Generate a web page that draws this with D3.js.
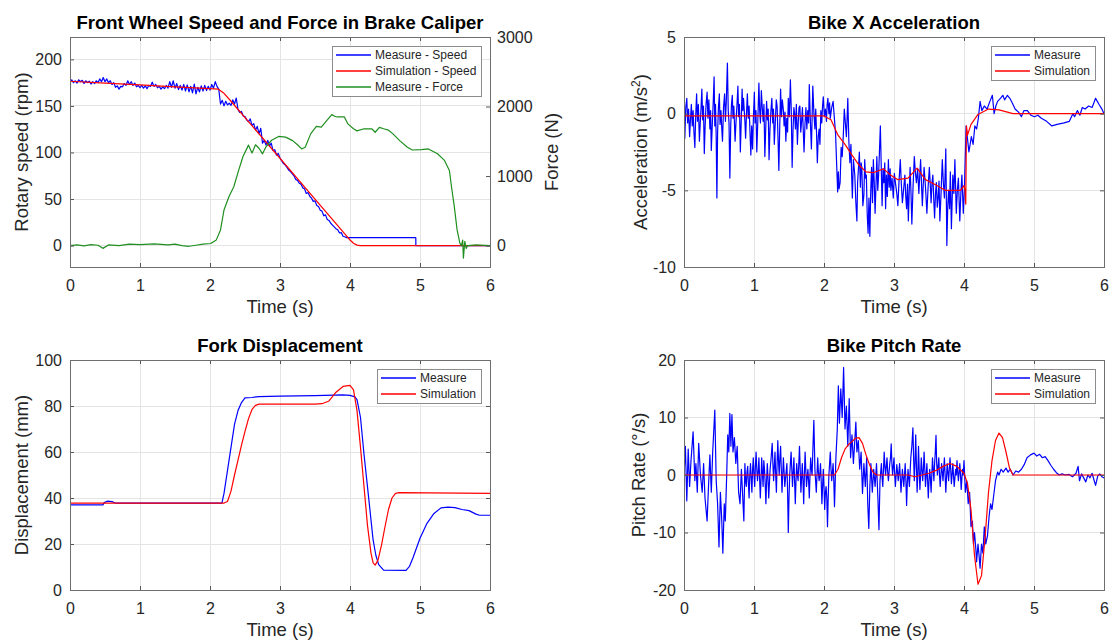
<!DOCTYPE html>
<html>
<head>
<meta charset="utf-8">
<script src="https://cdn.jsdelivr.net/npm/d3@7"></script>
<style>
  body { margin: 0; background: #fff; }
  text { font-family: "Liberation Sans", Arial, Helvetica, sans-serif; fill: #262626; }
</style>
</head>
<body>
<svg id="fig" width="1109" height="641"></svg>
<script>
// ---- data (time in s) ----
const timeTicks = [0, 1, 2, 3, 4, 5, 6];

// front wheel speed (rpm)
const speedMeasure = [[0,176],[0.025,178],[0.05,175],[0.075,177],[0.1,174.5],[0.125,178],[0.15,176],[0.175,177.5],[0.2,174],[0.225,177],[0.25,175],[0.275,176.5],[0.3,173.5],[0.325,176],[0.35,174],[0.375,177],[0.4,175],[0.425,179],[0.45,176],[0.475,180.5],[0.5,176],[0.525,179],[0.55,175],[0.575,177],[0.6,173],[0.625,175],[0.65,170],[0.675,171.5],[0.7,168],[0.725,171],[0.75,170.5],[0.775,174],[0.8,172],[0.825,177],[0.85,173],[0.875,176],[0.9,172],[0.925,174.5],[0.95,170.5],[0.975,172],[1,169.5],[1.025,172],[1.05,169],[1.075,171.5],[1.1,168.5],[1.125,172],[1.15,171],[1.175,175.5],[1.2,171],[1.225,173],[1.25,169.5],[1.275,171],[1.3,168],[1.325,170.5],[1.35,168.5],[1.375,172],[1.4,169],[1.425,176],[1.45,170],[1.475,177],[1.5,169],[1.525,174],[1.55,167.5],[1.575,172],[1.6,167],[1.625,173],[1.65,166],[1.675,172.5],[1.7,165],[1.725,171],[1.75,164],[1.775,173.5],[1.8,163],[1.825,170],[1.85,165],[1.875,171.5],[1.9,166],[1.925,172],[1.95,166.5],[1.975,171],[2,167],[2.025,173],[2.05,169],[2.075,176],[2.1,171],[2.125,168],[2.15,152],[2.175,156],[2.2,150],[2.225,155],[2.25,151],[2.275,153],[2.3,150.5],[2.325,156.5],[2.35,152],[2.375,158.5],[2.4,146],[2.425,143],[2.45,144],[2.475,139],[2.5,138.5],[2.525,135],[2.55,133],[2.575,136],[2.6,129],[2.625,131],[2.65,124],[2.675,128],[2.7,120],[2.725,126],[2.75,110],[2.775,113],[2.8,108],[2.825,113],[2.85,107],[2.875,110],[2.9,102],[2.925,103],[2.95,97],[2.975,99],[3,94],[3.025,91],[3.05,88],[3.075,86.5],[3.1,84],[3.125,81],[3.15,79.5],[3.2,75],[3.225,71],[3.25,70],[3.275,67],[3.3,66],[3.325,62],[3.35,61],[3.375,56],[3.4,57],[3.425,53],[3.45,51],[3.475,47.5],[3.5,48],[3.525,43],[3.55,42],[3.575,38],[3.6,37],[3.625,32],[3.65,33],[3.675,28],[3.7,27],[3.725,24],[3.75,22],[3.775,20],[3.8,18],[3.825,17],[3.85,13.5],[3.875,14],[3.9,10],[3.925,9.5],[3.95,8.5],[4.94,8.5],[4.941,0],[6,0]];
const speedSim = [[0,176.5],[0.5,174.5],[1,172.5],[1.5,170.5],[2,168.5],[2.12,168],[2.2,163.5],[2.3,155],[3.95,10.5],[4,6],[4.05,2.5],[4.1,0.5],[4.15,0],[6,0]];
// brake caliper force (N)
const forceMeasure = [[0,0],[0.1,10],[0.2,-5],[0.3,15],[0.4,5],[0.47,-40],[0.55,10],[0.7,0],[0.85,20],[1,15],[1.2,25],[1.4,10],[1.5,20],[1.6,0],[1.7,-10],[1.8,5],[1.9,20],[2.01,30],[2.09,82],[2.15,225],[2.2,512],[2.27,703],[2.34,846],[2.41,1086],[2.47,1277],[2.55,1445],[2.6,1330],[2.65,1450],[2.7,1400],[2.75,1320],[2.8,1420],[2.88,1515],[2.98,1570],[3.08,1560],[3.18,1510],[3.25,1450],[3.31,1390],[3.36,1415],[3.44,1610],[3.52,1715],[3.59,1705],[3.67,1800],[3.74,1885],[3.78,1860],[3.82,1850],[3.92,1850],[3.97,1750],[4.05,1680],[4.1,1650],[4.2,1680],[4.31,1680],[4.36,1630],[4.42,1700],[4.48,1680],[4.55,1660],[4.61,1610],[4.71,1510],[4.82,1415],[4.89,1375],[5.02,1380],[5.12,1390],[5.25,1320],[5.35,1225],[5.42,1080],[5.45,846],[5.49,560],[5.53,225],[5.57,33],[5.59,0],[5.61,80],[5.62,-180],[5.64,60],[5.66,-40],[5.68,0],[5.8,10],[6,0]];

// bike x acceleration (m/s^2)
const accMeasure = [[0,-0.5],[0.012,-1.6],[0.025,0.4],[0.04,1],[0.052,-0.6],[0.065,0.3],[0.08,-1.5],[0.092,-0.4],[0.105,0.6],[0.118,-0.8],[0.13,0.2],[0.142,-1.2],[0.155,-2.2],[0.167,-0.2],[0.18,1.3],[0.192,-0.5],[0.205,0.6],[0.22,-1.8],[0.232,-0.6],[0.243,0.3],[0.255,1.6],[0.267,-0.4],[0.278,0.5],[0.29,-2.6],[0.302,-0.8],[0.315,0.6],[0.33,1.4],[0.342,-0.3],[0.355,0.9],[0.37,-1],[0.38,0.2],[0.39,-2.4],[0.405,-0.6],[0.418,0.8],[0.43,2.4],[0.44,-0.8],[0.45,0.6],[0.46,-1.5],[0.47,-5.5],[0.48,-1.2],[0.492,0.4],[0.505,1.3],[0.515,-0.7],[0.528,0.2],[0.54,-1],[0.55,-1.8],[0.565,0.4],[0.58,1.3],[0.592,-0.5],[0.605,0.9],[0.62,3.3],[0.632,0.2],[0.643,-0.6],[0.655,-4.2],[0.667,-0.9],[0.678,0.6],[0.69,1.2],[0.7,-0.3],[0.712,0.5],[0.73,-1.8],[0.742,-0.6],[0.755,0.4],[0.77,1.8],[0.78,-0.2],[0.792,0.6],[0.805,-2.5],[0.818,-0.4],[0.83,1.6],[0.84,0.2],[0.85,1],[0.87,-0.5],[0.88,-1.6],[0.892,-0.1],[0.905,1.3],[0.918,-0.3],[0.93,0.5],[0.942,-1.1],[0.955,-2.7],[0.967,-0.8],[0.98,-2.3],[0.992,-0.2],[1.005,1.4],[1.015,-0.6],[1.028,0.2],[1.04,-2.5],[1.055,-0.4],[1.07,2],[1.08,0.3],[1.092,-0.6],[1.105,1.5],[1.118,0.4],[1.13,-0.5],[1.142,0.6],[1.155,-2.8],[1.168,-0.9],[1.18,0.8],[1.192,-0.4],[1.203,0.3],[1.215,-3],[1.228,-1],[1.242,0.2],[1.255,1],[1.268,-0.6],[1.278,0.3],[1.29,-2],[1.305,-0.5],[1.318,0.9],[1.33,0.5],[1.342,-1.4],[1.355,-3.7],[1.368,-0.8],[1.38,1.6],[1.392,-0.2],[1.405,0.9],[1.42,0.2],[1.43,-0.8],[1.443,0.1],[1.455,-1.8],[1.468,-0.3],[1.48,-1.2],[1.49,1],[1.505,-0.2],[1.52,2.2],[1.532,0.3],[1.545,-3.5],[1.558,-1],[1.57,0.4],[1.58,0],[1.592,-1],[1.605,0.6],[1.62,-2],[1.632,-0.6],[1.643,0.4],[1.655,0.5],[1.668,-1.2],[1.68,-0.5],[1.692,0.4],[1.703,-1],[1.715,-2.5],[1.728,-0.7],[1.742,0.4],[1.755,-1],[1.768,0.2],[1.78,-0.6],[1.79,1.9],[1.805,-0.5],[1.82,-2.3],[1.83,-0.3],[1.84,1.8],[1.855,0.1],[1.87,-1],[1.882,0.3],[1.893,-1.2],[1.905,-3.2],[1.918,-1.5],[1.93,-1],[1.942,-2],[1.955,0.2],[1.968,-0.6],[1.978,0.4],[1.99,1.1],[2.005,-0.2],[2.02,0.3],[2.035,-0.5],[2.045,0.6],[2.055,1],[2.07,0],[2.08,0.7],[2.09,-0.3],[2.11,0.4],[2.13,0.8],[2.15,-0.4],[2.165,-1.3],[2.18,-3.2],[2.195,-5.1],[2.205,-3.8],[2.215,-4.9],[2.23,-4.5],[2.245,-2.2],[2.26,-2.8],[2.275,-1.5],[2.29,0.3],[2.305,-0.6],[2.32,-1.5],[2.33,-0.3],[2.34,1],[2.355,-1.8],[2.37,-3.2],[2.385,-2],[2.395,-4],[2.405,-5.5],[2.42,-3],[2.44,-4],[2.455,-5.8],[2.47,-7],[2.48,-4.5],[2.492,-3.6],[2.505,-2.5],[2.52,-4.8],[2.53,-3.2],[2.54,-3.5],[2.555,-6],[2.57,-5.3],[2.582,-3],[2.593,-4.2],[2.605,-4],[2.617,-6.5],[2.63,-7.8],[2.642,-5.5],[2.655,-8],[2.668,-5],[2.68,-3.5],[2.693,-5.8],[2.705,-3],[2.718,-4.5],[2.73,-6.5],[2.743,-4.6],[2.755,-2.8],[2.768,-5],[2.78,-4],[2.792,-2.5],[2.805,-0.8],[2.818,-3.5],[2.83,-6],[2.843,-3.6],[2.855,-4.5],[2.868,-3.2],[2.88,-6.2],[2.892,-4],[2.905,-5.4],[2.92,-3],[2.932,-4.8],[2.945,-3.6],[2.955,-5],[2.972,-4.2],[2.99,-5.5],[3.005,-3.9],[3.02,-4.5],[3.04,-5.2],[3.055,-6],[3.072,-4.4],[3.09,-3],[3.105,-4.6],[3.12,-5.8],[3.14,-4.8],[3.155,-4],[3.168,-5.4],[3.18,-6.2],[3.193,-4.6],[3.205,-7],[3.218,-5],[3.23,-3.5],[3.243,-5.2],[3.255,-7.2],[3.272,-4.8],[3.29,-2.8],[3.305,-3.8],[3.32,-4.5],[3.338,-3.6],[3.355,-5.2],[3.368,-4],[3.38,-3],[3.393,-4.6],[3.405,-6],[3.418,-4.6],[3.43,-3.5],[3.45,-4.8],[3.47,-6.5],[3.487,-4.8],[3.505,-3.5],[3.518,-4.6],[3.53,-5.8],[3.543,-4.5],[3.555,-4],[3.568,-5.6],[3.58,-6.8],[3.593,-5.2],[3.605,-4.5],[3.618,-6.1],[3.63,-5.5],[3.643,-4.4],[3.655,-7],[3.672,-5.2],[3.69,-3],[3.705,-4.5],[3.72,-5.5],[3.74,-2.3],[3.755,-8.6],[3.768,-6],[3.78,-5],[3.793,-6.2],[3.805,-3.8],[3.82,-7.5],[3.83,-5.8],[3.84,-4],[3.855,-5.2],[3.87,-3],[3.89,-6.5],[3.905,-5],[3.92,-4.2],[3.93,-5.6],[3.94,-7],[3.955,-5.2],[3.97,-4],[3.99,-6.5],[4.005,-5],[4.03,-0.8],[4.07,-2.5],[4.105,-1.5],[4.13,-2],[4.155,-0.8],[4.18,-1],[4.205,-0.3],[4.23,0.8],[4.255,0.2],[4.29,0.5],[4.33,0.3],[4.37,0.8],[4.405,1.2],[4.43,0],[4.455,0.5],[4.48,0.8],[4.52,1],[4.555,1.2],[4.58,0.9],[4.62,1.2],[4.655,1],[4.69,0.7],[4.73,0.3],[4.78,0.1],[4.82,-0.2],[4.855,0.2],[4.905,0.2],[4.955,-0.1],[5.005,-0.2],[5.055,-0.1],[5.105,-0.3],[5.18,-0.5],[5.255,-0.8],[5.33,-0.7],[5.43,-0.6],[5.505,-0.5],[5.555,0],[5.58,-0.2],[5.62,0.2],[5.655,-0.1],[5.69,0.4],[5.73,0.3],[5.78,0.5],[5.83,0.4],[5.88,1],[5.93,0.6],[5.97,0.3],[6,0]];
const accSim = [[0,-0.15],[2,-0.15],[2.1,-0.4],[2.2,-1.4],[2.3,-2],[2.4,-2.7],[2.5,-3.35],[2.6,-3.8],[2.7,-3.85],[2.85,-3.6],[2.95,-4],[3.05,-4.3],[3.2,-4.2],[3.33,-3.55],[3.45,-4.3],[3.6,-4.65],[3.73,-5],[3.95,-5],[4,-4.7],[4.015,-5],[4.025,-5.9],[4.035,-0.8],[4.05,-1.4],[4.1,-0.7],[4.2,-0.05],[4.35,0.3],[4.5,0.25],[4.7,0],[6,0]];

// fork displacement (mm)
const forkMeasure = [[0,37],[0.47,37],[0.49,38],[0.53,38.6],[0.6,38.4],[0.65,37.8],[2.17,37.8],[2.2,42],[2.25,52],[2.3,62],[2.35,72],[2.4,78],[2.45,81.5],[2.5,83.5],[2.6,83.7],[2.7,84.1],[3,84.3],[3.5,84.5],[3.9,84.8],[4,84.6],[4.07,84],[4.1,82.8],[4.15,75],[4.2,59],[4.26,42],[4.33,21.8],[4.37,15],[4.41,11],[4.48,8.6],[4.8,8.5],[4.85,10.3],[4.9,14],[5,22.5],[5.1,29],[5.2,33.3],[5.3,35.7],[5.4,36],[5.5,35.8],[5.6,35],[5.7,34.5],[5.8,33],[5.85,32.5],[6,32.5]];
const forkSim = [[0,37.8],[2.2,37.8],[2.25,38.5],[2.3,43],[2.35,50],[2.4,56.5],[2.45,63],[2.5,69],[2.55,74.5],[2.6,78.5],[2.65,80.3],[2.7,80.8],[3.5,80.8],[3.6,81],[3.7,82.2],[3.8,86],[3.9,88.5],[4,89],[4.05,87],[4.1,78],[4.15,62],[4.2,45],[4.25,28],[4.3,16],[4.33,11.8],[4.36,10.8],[4.4,13],[4.45,19.5],[4.5,27.5],[4.55,35],[4.6,40],[4.65,42],[4.7,42.3],[6,42]];

// bike pitch rate (deg/s)
const pitchMeasure = [[0,0],[0.02,5],[0.04,-4.5],[0.06,4.5],[0.08,-2],[0.1,2.5],[0.13,7.5],[0.155,-1],[0.17,2],[0.19,-3],[0.21,5.5],[0.235,0],[0.26,-3],[0.28,2],[0.3,-4],[0.33,-8],[0.35,-2],[0.37,3.5],[0.39,-3],[0.41,4],[0.44,11.3],[0.46,-1],[0.48,-5],[0.5,-12.5],[0.52,-3],[0.54,-8],[0.555,-13.6],[0.575,-5],[0.59,-8],[0.61,0],[0.625,7],[0.64,4],[0.655,10.7],[0.67,5],[0.685,10.5],[0.7,4],[0.72,6.5],[0.74,2],[0.76,5],[0.78,-3],[0.8,-5],[0.82,1],[0.855,-8],[0.87,2],[0.88,-1],[0.89,-2],[0.9,0.5],[0.91,1.5],[0.92,-1.5],[0.93,-4],[0.94,0],[0.95,2],[0.96,-0.5],[0.97,-3],[0.98,1],[0.99,3],[1,0],[1.01,-2],[1.02,1.5],[1.03,4],[1.04,1],[1.05,-1],[1.06,0.5],[1.07,3],[1.08,-0.5],[1.09,-4],[1.1,-1],[1.11,3],[1.12,0.5],[1.13,-2],[1.14,2.5],[1.15,1],[1.16,-1.5],[1.17,-5],[1.18,-1],[1.19,2],[1.2,-0.5],[1.21,-4],[1.22,-1.5],[1.23,1],[1.245,3],[1.26,5.5],[1.27,2],[1.28,-1],[1.29,1.5],[1.3,4],[1.31,0],[1.32,-3],[1.33,2],[1.34,6],[1.35,2.5],[1.36,0],[1.37,3],[1.38,5],[1.39,1],[1.4,-3],[1.41,0],[1.42,3],[1.43,0.5],[1.44,-2],[1.455,0],[1.47,2],[1.48,-3],[1.49,-10],[1.5,-4],[1.51,0],[1.52,2],[1.53,4],[1.54,1],[1.55,-2],[1.56,0.5],[1.57,3],[1.58,-1],[1.59,-5],[1.6,-1],[1.61,2],[1.62,0],[1.63,-1],[1.64,2],[1.65,5],[1.66,1],[1.67,-3],[1.68,-0.5],[1.69,2],[1.7,-1],[1.71,-5],[1.72,0],[1.73,4],[1.74,1],[1.75,-2],[1.76,-0.5],[1.77,1],[1.78,-1],[1.79,-4],[1.8,0],[1.81,3],[1.82,1],[1.83,0],[1.84,4],[1.855,9.5],[1.865,4],[1.87,1],[1.88,-1],[1.89,-3],[1.9,0],[1.91,3],[1.92,0.5],[1.93,-1],[1.94,0],[1.95,2],[1.96,-1],[1.97,-5],[1.98,-2],[1.99,1],[2,-2],[2.01,-6],[2.02,-3],[2.03,-2],[2.04,-4],[2.05,-9],[2.06,-4],[2.07,0],[2.08,2],[2.09,4],[2.1,1],[2.11,-1],[2.12,0.5],[2.13,2],[2.14,-1],[2.15,-5.5],[2.17,3],[2.19,8],[2.205,15.5],[2.22,9],[2.24,15],[2.26,10],[2.28,18.7],[2.3,8],[2.32,12],[2.34,5],[2.36,13.3],[2.38,3],[2.4,7],[2.42,2],[2.44,6],[2.455,9.2],[2.47,4],[2.49,6],[2.51,1],[2.53,4],[2.55,-3.2],[2.57,2],[2.59,-2],[2.61,3],[2.625,-5],[2.64,-9.3],[2.655,-2],[2.67,2],[2.69,-3],[2.71,1],[2.73,-2],[2.75,2],[2.77,-4],[2.785,-9.5],[2.8,-1],[2.81,0.5],[2.82,2],[2.83,-0.5],[2.84,-2],[2.85,1],[2.86,4],[2.87,1.5],[2.88,0],[2.89,1.5],[2.9,3],[2.91,0.5],[2.92,-1],[2.93,0.5],[2.94,2],[2.95,3],[2.96,5.4],[2.97,2],[2.98,0],[2.99,1.5],[3,3],[3.01,0],[3.02,-2],[3.03,0],[3.04,1.8],[3.05,0.5],[3.06,-1],[3.07,0.5],[3.08,2],[3.09,-0.5],[3.1,-3],[3.11,-1],[3.12,1],[3.13,-0.5],[3.14,-2],[3.15,0],[3.16,2],[3.17,-1],[3.18,-5.3],[3.19,-1.5],[3.2,1],[3.21,-0.5],[3.22,-2],[3.23,0.5],[3.24,3],[3.255,5],[3.27,8.2],[3.28,3],[3.29,-1],[3.3,2],[3.31,7],[3.32,2],[3.33,-3],[3.34,0],[3.35,5],[3.36,1],[3.37,-2.5],[3.38,0],[3.39,3],[3.4,1],[3.41,-1],[3.42,1],[3.43,4],[3.44,1],[3.45,-2],[3.46,0],[3.47,2],[3.48,-1],[3.49,-4],[3.5,-1],[3.51,1],[3.52,-0.5],[3.53,-3],[3.54,0],[3.55,3],[3.56,1],[3.57,-1],[3.58,2],[3.59,4],[3.6,6.9],[3.61,2],[3.62,0],[3.63,1.5],[3.64,3],[3.65,0],[3.66,-2],[3.67,0],[3.68,2],[3.69,0.5],[3.7,-1],[3.71,1],[3.72,3],[3.73,0],[3.74,-3],[3.75,-0.5],[3.76,2],[3.77,0.5],[3.78,-1],[3.79,1],[3.8,3],[3.81,1],[3.82,-1.5],[3.83,0],[3.84,2],[3.85,0],[3.86,-2],[3.87,-0.5],[3.88,1],[3.89,0],[3.9,2.5],[3.91,0.5],[3.92,-1],[3.93,0.5],[3.94,2],[3.95,0],[3.96,-2.5],[3.97,-0.5],[3.98,1],[3.99,0],[4,2.5],[4.02,-3],[4.04,-1],[4.06,-5],[4.08,-3],[4.1,-9],[4.12,-8],[4.135,-12],[4.15,-10],[4.17,-13],[4.18,-15.1],[4.2,-12],[4.215,-14],[4.23,-16.2],[4.25,-12],[4.27,-13.6],[4.29,-9],[4.31,-12],[4.335,-10.6],[4.36,-7],[4.38,-5],[4.4,-6],[4.42,-4],[4.45,-1],[4.48,0.5],[4.5,0],[4.53,1],[4.56,0.5],[4.6,1.2],[4.63,0.5],[4.66,1],[4.7,0],[4.74,0.7],[4.78,0.5],[4.82,1],[4.86,1.8],[4.9,3],[4.95,3.5],[5,3.8],[5.04,3.3],[5.08,3.6],[5.12,3],[5.16,3.2],[5.2,2.5],[5.24,1.7],[5.28,1],[5.32,0.4],[5.36,0],[5.4,0.2],[5.45,0],[5.5,0.1],[5.55,-0.3],[5.6,0.3],[5.63,1.5],[5.65,-1],[5.68,0.2],[5.71,-0.5],[5.74,-1.2],[5.77,0],[5.8,-0.5],[5.83,0.3],[5.86,-1],[5.88,-1.8],[5.91,-0.2],[5.94,0.2],[5.97,-0.3],[6,-0.5]];
const pitchSim = [[0,0],[2.15,0],[2.2,1],[2.25,3],[2.3,4.5],[2.35,5.3],[2.4,5.8],[2.45,6.4],[2.5,6.5],[2.55,5.5],[2.6,3.5],[2.65,1.8],[2.7,0.5],[2.75,0],[3.2,0],[3.3,-0.3],[3.4,0],[3.5,0.3],[3.6,0.8],[3.7,1.5],[3.8,2],[3.9,1.5],[4,0.3],[4.05,-1.5],[4.1,-6],[4.15,-14],[4.2,-19],[4.25,-17.5],[4.3,-11],[4.35,-3],[4.4,2.5],[4.45,6],[4.5,7.3],[4.55,6.5],[4.6,4],[4.65,1.2],[4.7,0],[6,0]];

// ---- drawing ----
const BLUE = '#0000ff', RED = '#ff0000', GREEN = '#1f8f1f';
const W = 420, H = 230;
const svg = d3.select('#fig');
const fmt = d => String(d);
let clipCount = 0;

function styleAxis(a) {
  a.select('.domain').remove();
  a.selectAll('line').attr('stroke', '#555');
  a.selectAll('text').attr('font-size', 16);
  a.attr('font-family', null);
}

function drawPanel(p) {
  const g = svg.append('g').attr('transform', `translate(${p.left},${p.top})`);
  const x = d3.scaleLinear().domain([0, 6]).range([0, W]);
  const y = d3.scaleLinear().domain(p.yDomain).range([H, 0]);

  // grid
  const grid = g.append('g').attr('stroke', '#e4e4e4').attr('shape-rendering', 'crispEdges');
  grid.selectAll('.gx').data(timeTicks).join('line')
      .attr('x1', d => x(d)).attr('x2', d => x(d)).attr('y1', 0).attr('y2', H);
  grid.selectAll('.gy').data(p.yTicks).join('line')
      .attr('y1', d => y(d)).attr('y2', d => y(d)).attr('x1', 0).attr('x2', W);

  // series
  const id = 'clip' + (clipCount++);
  g.append('clipPath').attr('id', id).append('rect').attr('width', W).attr('height', H);
  const plot = g.append('g').attr('clip-path', `url(#${id})`);
  p.series.forEach(s => {
    const ys = s.right ? d3.scaleLinear().domain(p.right.domain).range([H, 0]) : y;
    const line = d3.line().x(d => x(d[0])).y(d => ys(d[1]));
    plot.append('path').datum(s.data).attr('d', line)
        .attr('fill', 'none').attr('stroke', s.color).attr('stroke-width', 1.2)
        .attr('stroke-linejoin', 'round');
  });

  // axes with inward ticks, MATLAB-like
  g.append('g').attr('transform', `translate(0,${H})`)
      .call(d3.axisBottom(x).tickValues(timeTicks).tickFormat(fmt).tickSizeInner(-4).tickSizeOuter(0).tickPadding(13))
      .call(styleAxis);
  g.append('g')
      .call(d3.axisTop(x).tickValues(timeTicks).tickFormat('').tickSizeInner(-4).tickSizeOuter(0))
      .call(styleAxis);
  g.append('g')
      .call(d3.axisLeft(y).tickValues(p.yTicks).tickFormat(fmt).tickSizeInner(-4).tickSizeOuter(0).tickPadding(8))
      .call(styleAxis);
  if (p.right) {
    const yR = d3.scaleLinear().domain(p.right.domain).range([H, 0]);
    g.append('g').attr('transform', `translate(${W},0)`)
        .call(d3.axisRight(yR).tickValues(p.right.ticks).tickFormat(fmt).tickSizeInner(-4).tickSizeOuter(0).tickPadding(7))
        .call(styleAxis);
    g.append('text').attr('transform', `translate(${W + 62},${H / 2}) rotate(-90)`)
        .attr('text-anchor', 'middle').attr('dy', '0.35em').attr('font-size', 18.5).text(p.right.label);
  } else {
    g.append('g').attr('transform', `translate(${W},0)`)
        .call(d3.axisRight(y).tickValues(p.yTicks).tickFormat('').tickSizeInner(-4).tickSizeOuter(0))
        .call(styleAxis);
  }

  // box
  g.append('rect').attr('x', 0).attr('y', 0).attr('width', W).attr('height', H)
      .attr('fill', 'none').attr('stroke', '#6e6e6e').attr('shape-rendering', 'crispEdges');

  // labels
  g.append('text').attr('x', W / 2).attr('y', -8).attr('text-anchor', 'middle')
      .attr('font-size', 18.5).attr('font-weight', 'bold').style('fill', '#000').text(p.title);
  g.append('text').attr('x', W / 2).attr('y', H + 46).attr('text-anchor', 'middle')
      .attr('font-size', 18.5).text('Time (s)');
  const yl = g.append('text').attr('transform', `translate(${p.yLabelX},${H / 2}) rotate(-90)`)
      .attr('text-anchor', 'middle').attr('dy', '0.35em').attr('font-size', 18.5);
  yl.append('tspan').text(p.yLabel[0]);
  if (p.yLabel.length > 1) {
    yl.append('tspan').attr('font-size', 12).attr('dy', '-0.6em').text(p.yLabel[1]);
    yl.append('tspan').attr('dy', '0.4em').text(p.yLabel[2]);
  }

  // legend
  const lg = g.append('g');
  const rowH = 16;
  const box = lg.append('rect').attr('fill', '#fff').attr('stroke', '#8c8c8c').attr('shape-rendering', 'crispEdges');
  const texts = p.series.map((s, i) => lg.append('text').attr('x', 43).attr('y', 9 + i * rowH)
      .attr('dy', '0.35em').attr('font-size', 12).text(s.label));
  p.series.forEach((s, i) => lg.append('line').attr('x1', 4).attr('x2', 39)
      .attr('y1', 9 + i * rowH).attr('y2', 9 + i * rowH).attr('stroke', s.color).attr('stroke-width', 1.5));
  const tw = d3.max(texts, t => t.node().getComputedTextLength());
  const bw = Math.round(43 + tw + 5), bh = p.series.length * rowH + 2;
  box.attr('width', bw).attr('height', bh);
  lg.attr('transform', `translate(${W - 9 - bw},9)`);
}

drawPanel({
  left: 70, top: 37, title: 'Front Wheel Speed and Force in Brake Caliper',
  yDomain: [-23, 224], yTicks: [0, 50, 100, 150, 200],
  yLabel: ['Rotary speed (rpm)'], yLabelX: -48.6,
  right: { domain: [-308, 3000], ticks: [0, 1000, 2000, 3000], label: 'Force (N)' },
  series: [
    { label: 'Measure - Speed', color: BLUE, data: speedMeasure },
    { label: 'Simulation - Speed', color: RED, data: speedSim },
    { label: 'Measure - Force', color: GREEN, data: forceMeasure, right: true }
  ]
});
drawPanel({
  left: 684, top: 37, title: 'Bike X Acceleration',
  yDomain: [-10, 5], yTicks: [-10, -5, 0, 5],
  yLabel: ['Acceleration (m/s', '2', ')'], yLabelX: -43.5,
  series: [
    { label: 'Measure', color: BLUE, data: accMeasure },
    { label: 'Simulation', color: RED, data: accSim }
  ]
});
drawPanel({
  left: 70, top: 360, title: 'Fork Displacement',
  yDomain: [0, 100], yTicks: [0, 20, 40, 60, 80, 100],
  yLabel: ['Displacement (mm)'], yLabelX: -48.6,
  series: [
    { label: 'Measure', color: BLUE, data: forkMeasure },
    { label: 'Simulation', color: RED, data: forkSim }
  ]
});
drawPanel({
  left: 684, top: 360, title: 'Bike Pitch Rate',
  yDomain: [-20, 20], yTicks: [-20, -10, 0, 10, 20],
  yLabel: ['Pitch Rate (°/s)'], yLabelX: -45,
  series: [
    { label: 'Measure', color: BLUE, data: pitchMeasure },
    { label: 'Simulation', color: RED, data: pitchSim }
  ]
});
</script>
</body>
</html>
